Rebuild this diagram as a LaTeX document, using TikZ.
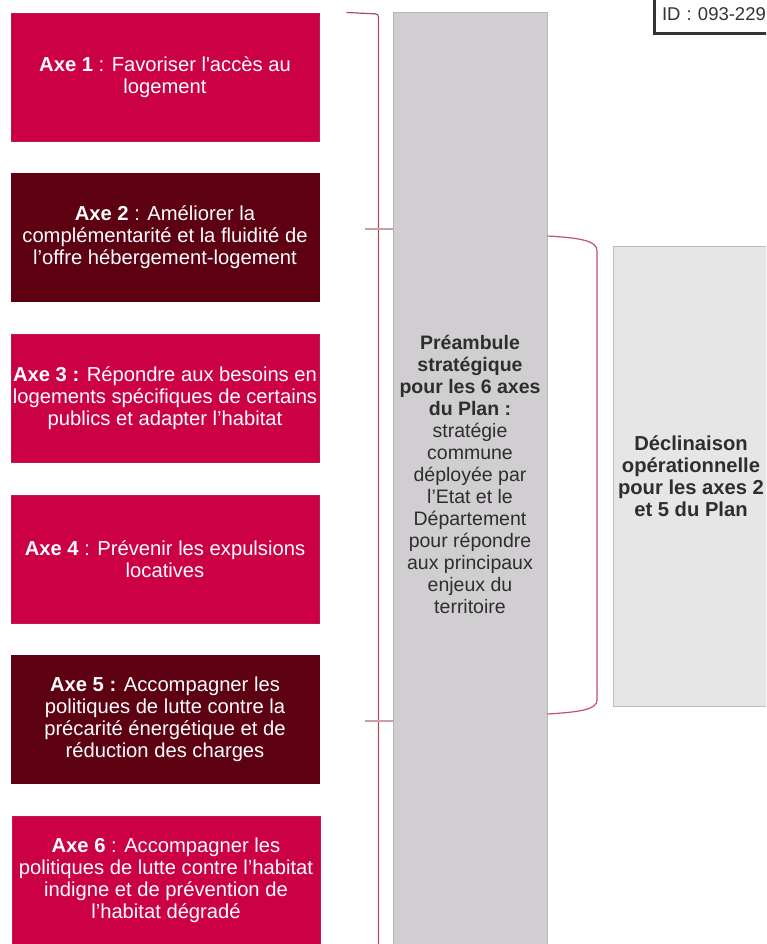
\documentclass[tikz,border=0pt]{standalone}
\usepackage{fontspec}
\setmainfont{Liberation Sans}
\usetikzlibrary{positioning,calc}
\definecolor{axered}{HTML}{CC0044}
\definecolor{axedark}{HTML}{5C0012}
\definecolor{colgray}{HTML}{D0CED0}
\definecolor{colborder}{HTML}{B8B6B8}
\definecolor{opgray}{HTML}{E6E6E6}
\definecolor{opborder}{HTML}{BEBEBE}
\definecolor{bracketline}{HTML}{A0505E}
\definecolor{bracketpink}{HTML}{C4506C}
\definecolor{ink}{HTML}{2E2E2E}
\definecolor{idframe}{HTML}{333333}
\tikzset{
  axe/.style={
    fill=axered,
    draw=axered!80!gray,
    line width=0.6pt,
    text=white,
    align=center,
    minimum width=308pt,
    minimum height=128pt,
    inner sep=1pt,
    font=\fontsize{20.2}{22}\selectfont
  },
  axe dark/.style={axe, fill=axedark, draw=axedark},
  preamble/.style={
    fill=colgray,
    draw=colborder,
    line width=1pt,
    minimum width=154pt,
    minimum height=936pt,
    align=center,
    text=ink,
    inner sep=1pt,
    font=\fontsize{19.5}{22}\selectfont
  },
  declinaison/.style={
    fill=opgray,
    draw=opborder,
    line width=1pt,
    minimum width=156pt,
    minimum height=460pt,
    align=center,
    text=ink,
    inner sep=1pt,
    font=\fontsize{20.2}{22}\selectfont\bfseries
  },
  idbox/.style={
    draw=idframe,
    fill=white,
    line width=3pt,
    text=idframe,
    align=left,
    text width=130pt,
    minimum height=38pt,
    inner xsep=8pt,
    font=\fontsize{18.5}{20}\selectfont
  },
  bracket/.style={
    draw=bracketline,
    line width=1.2pt
  },
  tick/.style={
    draw=bracketline!55!white,
    line width=1.6pt
  },
  brace right/.style={
    draw=bracketpink,
    line width=1.2pt
  }
}

\begin{document}
\begin{tikzpicture}[x=1pt, y=-1pt, node distance=32pt]
\useasboundingbox (0,0) rectangle (766,944);
\clip (0,0) rectangle (766,944);

% ---------------------------------------------------------------------------
% 1. The six axes
% ---------------------------------------------------------------------------
\node[axe] (axe1) at (165,77) {\textbf{Axe 1} : Favoriser l\textquotesingle accès au\\logement};
\node[axe dark, below=of axe1] (axe2) {\textbf{Axe 2} : Améliorer la\\complémentarité et la fluidité de\\l’offre hébergement-logement};
\node[axe, below=of axe2] (axe3) {\textbf{Axe 3 :} Répondre aux besoins en\\logements spécifiques de certains\\publics et adapter l’habitat};
\node[axe, below=of axe3] (axe4) {\textbf{Axe 4} : Prévenir les expulsions\\locatives};
\node[axe dark, below=of axe4] (axe5) {\textbf{Axe 5 :} Accompagner les\\politiques de lutte contre la\\précarité énergétique et de\\réduction des charges};
\node[axe, below=of axe5, xshift=1pt] (axe6) {\textbf{Axe 6} : Accompagner les\\politiques de lutte contre l’habitat\\indigne et de prévention de\\l’habitat dégradé};

% ---------------------------------------------------------------------------
% 2. Strategic preamble and operational column
% ---------------------------------------------------------------------------
\node[preamble] (preamble) at (470,481) {\textbf{Préambule}\\\textbf{stratégique}\\\textbf{pour les 6 axes}\\\textbf{du Plan :}\\stratégie\\commune\\déployée par\\l’Etat et le\\Département\\pour répondre\\aux principaux\\enjeux du\\territoire\\[-8pt]\mbox{}};
\node[declinaison] (declinaison) at (691,476) {Déclinaison\\opérationnelle\\pour les axes 2\\et 5 du Plan};

% ---------------------------------------------------------------------------
% 3. Brackets
% ---------------------------------------------------------------------------
\coordinate (lbTop) at ($(preamble.north west)+(-46,0)$);
\coordinate (lbBottom) at ($(preamble.north west)+(-14,960)$);
\draw[bracket, rounded corners=3pt] (lbTop) -- ++(32,1.5) -- (lbBottom);

\coordinate (tick2) at (365,229);
\coordinate (tick5) at (365,721);
\draw[tick] (tick2) -- (tick2 -| preamble.west);
\draw[tick] (tick5) -- (tick5 -| preamble.west);

\coordinate (rbTop) at (preamble.east |- 0,236);
\coordinate (rbBottom) at (preamble.east |- 0,714);
\draw[brace right] (rbTop) .. controls (582,238) and (597,241) .. (597,251)
  -- (597,700) .. controls (597,709) and (582,712) .. (rbBottom);

% Reference tag, cut by the page edge.
\node[idbox, anchor=north west] (idtag) at (652.5,-6) {\rule{0pt}{8pt}ID : 093-229};

\end{tikzpicture}
\end{document}
